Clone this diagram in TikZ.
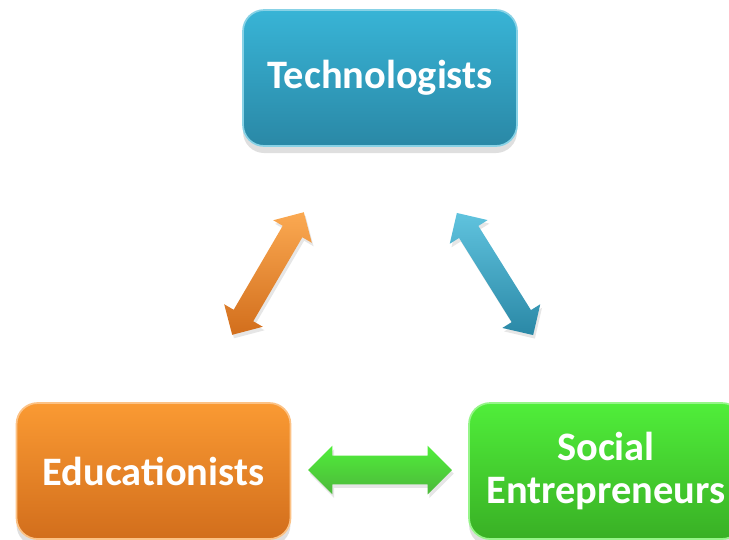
\documentclass[tikz,border=0pt]{standalone}
\usepackage{fontspec}
\setmainfont{Carlito}
\usetikzlibrary{shapes.arrows,shadows}
\definecolor{tTop}{HTML}{38B4D6}
\definecolor{tBot}{HTML}{2A88A6}
\definecolor{oTop}{HTML}{FA9A33}
\definecolor{oBot}{HTML}{D26E1C}
\definecolor{gTop}{HTML}{50EE3A}
\definecolor{gBot}{HTML}{39B025}
\tikzset{
  box/.style={rectangle, rounded corners=12pt, minimum width=5.48cm, minimum height=2.72cm,
    text=white, align=center, inner sep=0pt,
    font=\fontsize{23}{24}\selectfont\bfseries,
    drop shadow={opacity=0.25, shadow xshift=0pt, shadow yshift=-4pt}},
  darrow/.style={double arrow, inner xsep=0pt, double arrow tip angle=90,
    drop shadow={opacity=0.2, shadow xshift=1pt, shadow yshift=-2pt}},
}
\begin{document}
\begin{tikzpicture}[x=0.02cm,y=-0.02cm]
\useasboundingbox (0,0) rectangle (729,539);
\begin{scope}
\clip (0,0) rectangle (729,539);
\node[box, top color=tTop, bottom color=tBot, draw=tTop!60!white, line width=1pt] (tech) at (380,78) {Technologists};
\node[box, top color=oTop, bottom color=oBot, draw=oTop!60!white, line width=1pt] (edu) at (153.5,471) {Educationists};
\node[box, top color=gTop, bottom color=gBot, draw=gTop!60!white, line width=1pt] (soc) at (606,471) {Social\\Entrepreneurs};
\node[darrow, minimum height=2.84cm, inner ysep=0.22cm, double arrow head extend=0.22cm,
  rotate=59.7, top color=oTop!85!white, bottom color=oBot] (a1) at (268,273.5) {};
\node[darrow, minimum height=2.88cm, inner ysep=0.22cm, double arrow head extend=0.22cm,
  rotate=-58, top color=tTop!80!white, bottom color=tBot] (a2) at (495,274) {};
\node[darrow, minimum height=2.88cm, inner ysep=0.28cm, double arrow head extend=0.2cm,
  top color=gTop, bottom color=gBot!90!white] (a3) at (380,470) {};
\end{scope}
\end{tikzpicture}
\end{document}
